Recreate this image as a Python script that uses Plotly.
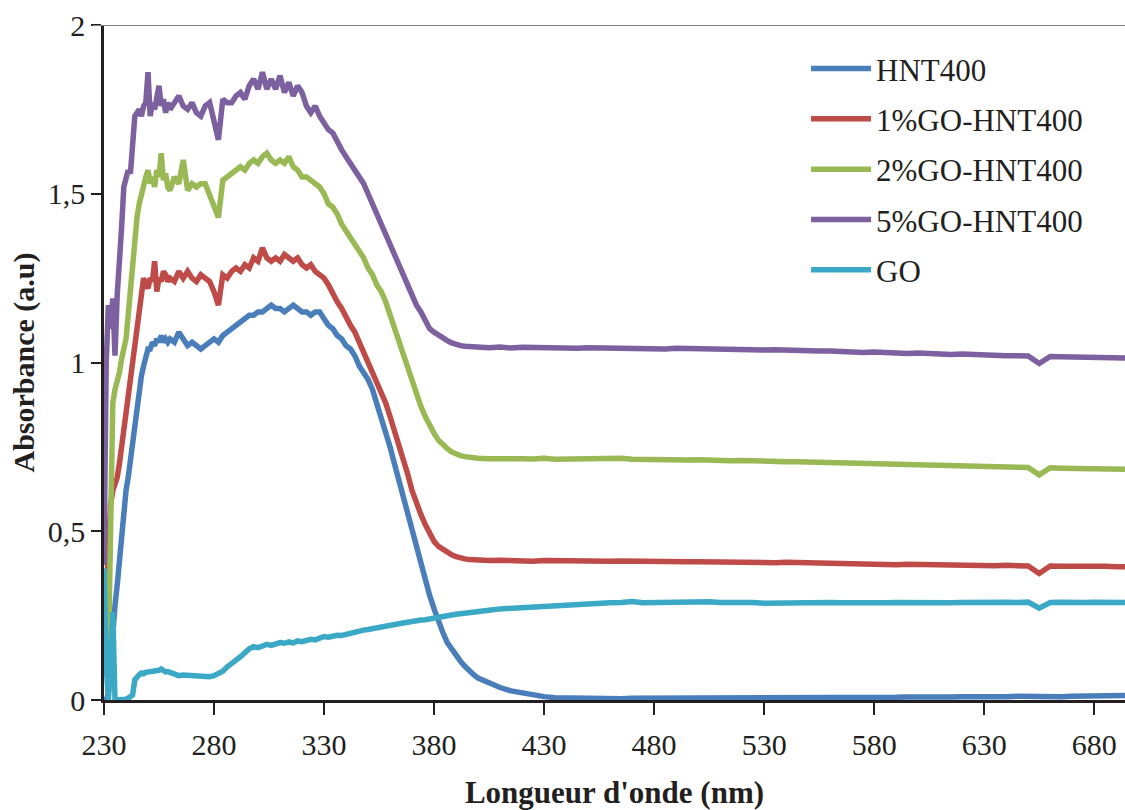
import plotly.graph_objects as go

# Wavelength grid (nm)
wl = list(range(230, 260, 1)) + list(range(260, 400, 2)) + list(range(400, 695, 5)) + [694]

hnt400 = [
    0.00, 0.00, 0.02, 0.12, 0.22, 0.28, 0.34, 0.42, 0.50, 0.57,
    0.62, 0.66, 0.71, 0.75, 0.81, 0.87, 0.93, 0.96, 0.99, 1.02,
    1.04, 1.04, 1.06, 1.05, 1.07, 1.06, 1.08, 1.06, 1.07, 1.06,
    # 260-398
    1.07, 1.06, 1.09, 1.07, 1.05, 1.06, 1.05, 1.04, 1.05, 1.06,
    1.07, 1.06, 1.08, 1.09, 1.10, 1.11, 1.12, 1.13, 1.14, 1.14,
    1.15, 1.15, 1.16, 1.17, 1.16, 1.16, 1.15, 1.16, 1.17, 1.16,
    1.15, 1.15, 1.14, 1.15, 1.15, 1.13, 1.11, 1.10, 1.08, 1.07,
    1.05, 1.04, 1.02, 0.99, 0.97, 0.95, 0.92, 0.88, 0.84, 0.79,
    0.75, 0.70, 0.65, 0.60, 0.55, 0.50, 0.45, 0.41, 0.36, 0.31,
    0.27, 0.23, 0.20, 0.17, 0.15, 0.13, 0.115, 0.10, 0.085, 0.075,
    # 400-694
    0.065, 0.05, 0.037, 0.027, 0.02, 0.014, 0.01, 0.007, 0.006, 0.005,
    0.005, 0.006, 0.005, 0.004, 0.005, 0.005, 0.006, 0.005, 0.004, 0.005,
    0.006, 0.005, 0.005, 0.006, 0.005, 0.004, 0.006, 0.005, 0.006, 0.007,
    0.006, 0.007, 0.006, 0.007, 0.008, 0.007, 0.008, 0.007, 0.008, 0.009,
    0.008, 0.009, 0.008, 0.009, 0.010, 0.009, 0.010, 0.009, 0.010, 0.011,
    0.010, 0.008, 0.011, 0.010, 0.011, 0.012, 0.011, 0.012, 0.012, 0.013,
]

go1 = [
    0.38, 0.30, 0.45, 0.58, 0.62, 0.64, 0.66, 0.70, 0.75, 0.80,
    0.85, 0.91, 0.96, 1.01, 1.06, 1.10, 1.14, 1.20, 1.25, 1.23,
    1.22, 1.25, 1.24, 1.30, 1.21, 1.25, 1.24, 1.27, 1.26, 1.24,
    # 260-398
    1.25, 1.24, 1.27, 1.25, 1.27, 1.25, 1.24, 1.26, 1.25, 1.24,
    1.21, 1.17, 1.26, 1.25, 1.27, 1.28, 1.27, 1.29, 1.28, 1.31,
    1.30, 1.34, 1.31, 1.30, 1.31, 1.30, 1.32, 1.31, 1.30, 1.31,
    1.29, 1.28, 1.29, 1.27, 1.26, 1.25, 1.23, 1.20, 1.18, 1.16,
    1.13, 1.11, 1.09, 1.06, 1.04, 1.01, 0.98, 0.95, 0.92, 0.88,
    0.84, 0.80, 0.76, 0.72, 0.67, 0.62, 0.58, 0.55, 0.52, 0.49,
    0.47, 0.455, 0.445, 0.435, 0.43, 0.425, 0.42, 0.418, 0.416, 0.415,
    # 400-694
    0.415, 0.413, 0.414, 0.412, 0.413, 0.411, 0.413, 0.412, 0.411, 0.412,
    0.413, 0.412, 0.411, 0.412, 0.411, 0.410, 0.411, 0.410, 0.411, 0.410,
    0.410, 0.409, 0.410, 0.409, 0.408, 0.409, 0.408, 0.407, 0.408, 0.407,
    0.406, 0.404, 0.403, 0.404, 0.403, 0.402, 0.403, 0.402, 0.401, 0.402,
    0.401, 0.400, 0.401, 0.400, 0.399, 0.400, 0.399, 0.398, 0.399, 0.398,
    0.397, 0.375, 0.397, 0.396, 0.397, 0.396, 0.395, 0.396, 0.395, 0.395,
]

go2 = [
    0.36, 0.15, 0.13, 0.50, 0.88, 0.92, 0.94, 0.97, 1.01, 1.04,
    1.07, 1.14, 1.22, 1.32, 1.38, 1.43, 1.47, 1.50, 1.52, 1.55,
    1.57, 1.53, 1.55, 1.52, 1.57, 1.55, 1.62, 1.54, 1.56, 1.52,
    # 260-398
    1.51, 1.55, 1.53, 1.60, 1.51, 1.53, 1.52, 1.53, 1.53, 1.50,
    1.47, 1.43, 1.54, 1.55, 1.56, 1.57, 1.58, 1.57, 1.59, 1.60,
    1.59, 1.61, 1.62, 1.60, 1.59, 1.60, 1.59, 1.61, 1.58, 1.57,
    1.55, 1.55, 1.54, 1.53, 1.52, 1.50, 1.47, 1.46, 1.44, 1.41,
    1.39, 1.37, 1.35, 1.33, 1.31, 1.28, 1.26, 1.23, 1.21, 1.18,
    1.14, 1.10, 1.07, 1.03, 0.99, 0.95, 0.91, 0.87, 0.84, 0.81,
    0.79, 0.77, 0.755, 0.745, 0.735, 0.728, 0.724, 0.721, 0.719, 0.717,
    # 400-694
    0.716, 0.715, 0.716, 0.714, 0.715, 0.714, 0.716, 0.713, 0.714, 0.713,
    0.714, 0.713, 0.714, 0.716, 0.713, 0.712, 0.713, 0.711, 0.712, 0.711,
    0.712, 0.710, 0.711, 0.709, 0.710, 0.708, 0.709, 0.707, 0.706, 0.706,
    0.705, 0.704, 0.703, 0.704, 0.702, 0.701, 0.702, 0.700, 0.699, 0.698,
    0.697, 0.698, 0.696, 0.695, 0.694, 0.693, 0.692, 0.691, 0.690, 0.690,
    0.689, 0.667, 0.688, 0.687, 0.687, 0.686, 0.686, 0.685, 0.685, 0.684,
]

go5 = [
    0.40, 1.00, 1.17, 1.10, 1.19, 1.02, 1.20, 1.28, 1.40, 1.52,
    1.55, 1.57, 1.56, 1.64, 1.73, 1.74, 1.75, 1.73, 1.76, 1.77,
    1.86, 1.73, 1.77, 1.75, 1.79, 1.82, 1.76, 1.78, 1.74, 1.77,
    # 260-398
    1.75, 1.77, 1.79, 1.76, 1.75, 1.77, 1.74, 1.73, 1.76, 1.77,
    1.72, 1.66, 1.78, 1.77, 1.77, 1.79, 1.80, 1.78, 1.82, 1.84,
    1.81, 1.86, 1.81, 1.84, 1.81, 1.85, 1.80, 1.83, 1.79, 1.82,
    1.80, 1.76, 1.74, 1.76, 1.73, 1.71, 1.69, 1.68, 1.65, 1.63,
    1.61, 1.59, 1.57, 1.55, 1.53, 1.50, 1.47, 1.45, 1.42, 1.39,
    1.36, 1.33, 1.30, 1.27, 1.24, 1.21, 1.17, 1.15, 1.12, 1.10,
    1.09, 1.08, 1.07, 1.065, 1.058, 1.053, 1.050, 1.048, 1.047, 1.045,
    # 400-694
    1.045, 1.044, 1.046, 1.043, 1.045, 1.044, 1.043, 1.045, 1.044, 1.042,
    1.044, 1.043, 1.044, 1.042, 1.044, 1.043, 1.042, 1.040, 1.042, 1.041,
    1.040, 1.039, 1.041, 1.039, 1.038, 1.039, 1.037, 1.038, 1.036, 1.037,
    1.035, 1.034, 1.034, 1.032, 1.031, 1.030, 1.031, 1.029, 1.028, 1.027,
    1.028, 1.026, 1.025, 1.024, 1.025, 1.023, 1.022, 1.021, 1.020, 1.020,
    1.019, 0.997, 1.018, 1.017, 1.016, 1.016, 1.015, 1.015, 1.014, 1.013,
]

go_pure = [
    0.39, 0.10, 0.00, 0.18, 0.26, 0.00, 0.00, 0.00, 0.00, 0.00,
    0.002, 0.005, 0.010, 0.015, 0.060, 0.070, 0.075, 0.080, 0.078, 0.082,
    0.083, 0.085, 0.082, 0.086, 0.084, 0.088, 0.092, 0.085, 0.083, 0.084,
    # 260-398
    0.082, 0.075, 0.072, 0.074, 0.073, 0.070, 0.068, 0.070, 0.067, 0.069,
    0.072, 0.078, 0.085, 0.098, 0.110, 0.118, 0.128, 0.140, 0.152, 0.158,
    0.155, 0.160, 0.165, 0.162, 0.166, 0.170, 0.168, 0.172, 0.169, 0.175,
    0.173, 0.178, 0.180, 0.178, 0.185, 0.188, 0.186, 0.190, 0.192, 0.191,
    0.195, 0.198, 0.200, 0.203, 0.207, 0.209, 0.212, 0.213, 0.216, 0.218,
    0.220, 0.224, 0.226, 0.228, 0.231, 0.233, 0.235, 0.237, 0.238, 0.241,
    0.243, 0.245, 0.247, 0.250, 0.252, 0.254, 0.256, 0.258, 0.260, 0.262,
    # 400-694
    0.263, 0.266, 0.270, 0.272, 0.275, 0.277, 0.279, 0.280, 0.282, 0.284,
    0.286, 0.287, 0.288, 0.289, 0.292, 0.288, 0.289, 0.288, 0.290, 0.289,
    0.290, 0.291, 0.289, 0.290, 0.288, 0.289, 0.287, 0.288, 0.289, 0.288,
    0.287, 0.288, 0.289, 0.288, 0.287, 0.288, 0.287, 0.288, 0.289, 0.288,
    0.289, 0.290, 0.289, 0.288, 0.289, 0.290, 0.289, 0.291, 0.290, 0.289,
    0.290, 0.272, 0.289, 0.290, 0.288, 0.289, 0.290, 0.289, 0.290, 0.289,
]

series_names = ["HNT400", "1%GO-HNT400", "2%GO-HNT400", "5%GO-HNT400", "GO"]
series_values = [hnt400, go1, go2, go5, go_pure]
series_colors = ["#4A7EBB", "#BE4B48", "#98B954", "#7D60A0", "#3BA9C6"]

x_ticks = [230, 280, 330, 380, 430, 480, 530, 580, 630, 680]
y_ticks = [0, 0.5, 1, 1.5, 2]

FONT = "Liberation Serif"
INK = "#231F20"

fig = go.Figure()
for i, (name, vals, col) in enumerate(zip(series_names, series_values, series_colors)):
    fig.add_trace(go.Scatter(
        x=wl, y=vals, mode="lines", name=name,
        line=dict(color=col, width=5.5), legendgroup=f"g{i}",
    ))

fig.update_layout(
    width=1125, height=810,
    margin=dict(l=104, r=0, t=25, b=110),
    paper_bgcolor="white", plot_bgcolor="white",
    separators=", ",
    font=dict(family=FONT, color=INK, size=30),
    showlegend=True,
    legend=dict(
        x=0.6876, y=0.975, xanchor="left", yanchor="top",
        font=dict(family=FONT, size=31, color=INK),
        bgcolor="rgba(0,0,0,0)", traceorder="grouped", tracegroupgap=7,
        itemwidth=60,
    ),
    shapes=[dict(type="line", xref="paper", yref="y", x0=-0.011, x1=1, y0=2, y1=2,
                 line=dict(color="#7F7F7F", width=2))],
)

fig.update_xaxes(
    range=[230, 694], tickvals=x_ticks, ticktext=[str(v) for v in x_ticks],
    showgrid=False, zeroline=False, automargin=False,
    showline=True, linecolor=INK, linewidth=3,
    ticks="outside", ticklen=12, tickwidth=2, tickcolor=INK,
    tickfont=dict(family=FONT, size=30, color=INK), ticklabelstandoff=4,
    title=dict(text="<b>Longueur d'onde (nm)</b>", font=dict(family=FONT, size=31, color=INK), standoff=26),
)
fig.update_yaxes(
    range=[0, 2], tickvals=y_ticks, ticktext=["0", "0,5", "1", "1,5", "2"],
    showgrid=False, zeroline=False, automargin=False,
    showline=True, linecolor=INK, linewidth=2.5,
    ticks="outside", ticklen=10, tickwidth=2, tickcolor=INK,
    tickfont=dict(family=FONT, size=30, color=INK),
    title=dict(text="<b>Absorbance (a.u)</b>", font=dict(family=FONT, size=30, color=INK), standoff=5),
)

fig.write_html(
    "out.html",
    config={"displayModeBar": False},
    post_script="document.body.style.margin='0px';document.body.style.overflow='hidden';",
)
